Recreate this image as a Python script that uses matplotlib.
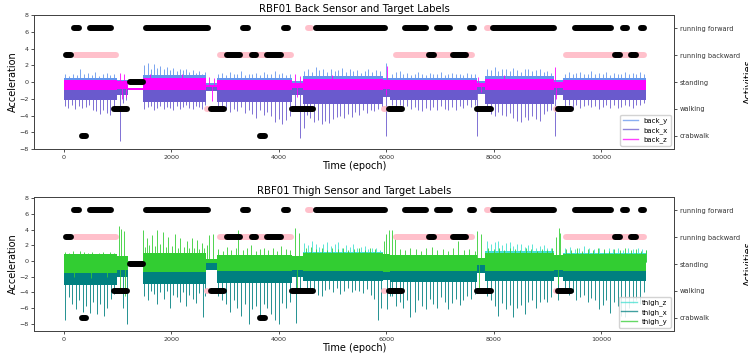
import numpy as np
import matplotlib
matplotlib.use("Agg")
import matplotlib.pyplot as plt
from matplotlib.lines import Line2D

activities = ["crabwalk", "walking", "standing", "running backward", "running forward"]

# ---- label segments (epoch start, epoch end, activity index) ----
pink_start = [1408, 4512, 7832, 167, 2860, 6151, 9304, 2650, 5922, 9149]
pink_end   = [1495, 4648, 7957, 1017, 4264, 7647, 10843, 2712, 6015, 9200]
pink_act   = [4, 4, 4, 3, 3, 3, 3, 1, 1, 1]

black_start = [143, 447, 1495, 3302, 4060, 4648, 6313, 6914, 7523, 7957, 9478, 10372, 10700,
               0, 3004, 3457, 3749, 6760, 7213, 10223, 10527,
               1195,
               900, 2693, 4201, 6015, 7660, 9168,
               291, 3613]
black_end = [322, 912, 2724, 3470, 4214, 6025, 6778, 7231, 7678, 9168, 10235, 10532, 10843,
             167, 3315, 3624, 4078, 6927, 7535, 10391, 10689,
             1520,
             1220, 3022, 4680, 6337, 7989, 9490,
             458, 3780]
black_act = [4] * 13 + [3] * 8 + [2] + [1] * 6 + [0] * 2

# ---- sensor signal envelopes per region (epoch ranges) ----
region_start = [0, 1000, 1200, 1470, 2650, 2850, 4250, 4450, 5950, 6080, 7690, 7850, 9120, 9300]
region_end   = [1000, 1200, 1470, 2650, 2850, 4250, 4450, 5950, 6080, 7690, 7850, 9120, 9300, 10843]

back_y_hi = [0.45, 0.3, -0.8, 0.8, -0.1, 0.45, 0.1, 0.7, 0.5, 0.45, 0.1, 0.7, 0.3, 0.45]
back_y_lo = [-1.2, -1.0, -1.0, -1.5, -0.8, -1.3, -1.0, -1.4, -1.0, -1.2, -0.9, -1.4, -1.0, -1.2]
back_x_hi = [-0.3, -0.5, -0.85, -0.3, -0.6, -0.3, -0.5, -0.3, -0.4, -0.3, -0.5, -0.3, -0.5, -0.3]
back_x_lo = [-2.2, -1.6, -1.0, -2.4, -1.1, -2.4, -1.6, -2.6, -1.8, -2.2, -1.4, -2.6, -1.6, -2.1]
back_z_hi = [0.3, 0.1, -0.75, 0.45, -0.3, 0.3, -0.1, 0.35, 0.2, 0.3, -0.1, 0.35, 0.0, 0.3]
back_z_lo = [-0.9, -0.8, -0.9, -1.0, -0.6, -0.9, -0.7, -1.0, -0.8, -0.9, -0.6, -1.0, -0.7, -0.9]

back_y_spk_x = [30, 100, 170, 240, 310, 380, 450, 520, 590, 660, 730, 800, 870, 940,
                1500, 1560, 1620, 1680, 1740, 1800, 1860, 1920, 1980, 2040, 2100, 2160, 2220,
                2280, 2340, 2400, 2460, 2520, 2580, 2630,
                2880, 2950, 3020, 3090, 3160, 3230, 3300, 3370, 3440, 3510, 3580, 3650, 3720,
                3790, 3860, 3930, 4000, 4070, 4140, 4210,
                4480, 4550, 4620, 4690, 4760, 4830, 4900, 4970, 5040, 5110, 5180, 5250, 5320,
                5390, 5460, 5530, 5600, 5670, 5740, 5810, 5880, 5990,
                6110, 6180, 6250, 6320, 6390, 6460, 6530, 6600, 6670, 6740, 6810, 6880, 6950,
                7020, 7090, 7160, 7230, 7300, 7370, 7440, 7510, 7580, 7650,
                7880, 7950, 8020, 8090, 8160, 8230, 8300, 8370, 8440, 8510, 8580, 8650, 8720,
                8790, 8860, 8930, 9000, 9070,
                9330, 9400, 9470, 9540, 9610, 9680, 9750, 9820, 9890, 9960, 10030, 10100,
                10170, 10240, 10310, 10380, 10450, 10520, 10590, 10660, 10730, 10800]
back_y_spk_y = [0.9, 0.7, 1.0, 0.8, 1.5, 0.9, 1.1, 0.8, 1.2, 0.7, 0.9, 1.1, 0.8, 0.9,
                2.0, 2.3, 1.6, 2.1, 1.7, 1.9, 1.5, 1.8, 1.4, 1.7, 1.3, 1.6, 1.4,
                1.5, 1.2, 1.4, 1.1, 1.3, 1.0, 1.2,
                0.9, 1.1, 0.8, 1.2, 0.9, 1.0, 1.3, 0.8, 1.0, 0.9, 1.1, 0.8, 1.2,
                0.9, 1.0, 1.3, 0.9, 1.1, 0.8, 1.0,
                1.3, 1.6, 1.2, 1.8, 1.4, 1.5, 1.2, 1.6, 1.3, 1.4, 1.7, 1.2, 1.5,
                1.3, 1.4, 1.1, 1.3, 1.5, 1.2, 1.4, 1.3, 2.3,
                1.0, 1.2, 1.3, 0.9, 1.1, 0.8, 1.0, 1.2, 0.9, 0.8, 1.1, 1.0, 0.9,
                1.2, 0.8, 1.0, 1.1, 0.9, 1.0, 0.8, 1.1, 0.9, 1.0,
                1.6, 1.4, 1.8, 1.3, 1.6, 1.5, 1.3, 1.7, 1.4, 1.2, 1.5, 1.6, 1.3,
                1.4, 1.5, 1.2, 1.3, 1.1,
                1.0, 1.2, 0.9, 1.1, 1.2, 0.9, 1.0, 1.3, 0.9, 1.1, 1.0, 1.2,
                0.8, 1.1, 1.0, 0.9, 1.2, 1.0, 1.1, 0.9, 1.2, 1.0]

back_x_spk_x = [20, 85, 150, 215, 280, 345, 410, 475, 540, 605, 670, 735, 800, 865, 930,
                1048, 1100, 1160,
                1500, 1560, 1620, 1680, 1740, 1800, 1860, 1920, 1980, 2040, 2100, 2160, 2220,
                2280, 2340, 2400, 2460, 2520, 2580, 2630,
                2880, 2950, 3020, 3090, 3160, 3230, 3300, 3370, 3440, 3510, 3580, 3650, 3720,
                3790, 3860, 3930, 4000, 4070, 4140, 4210,
                4300, 4400, 4470,
                4520, 4590, 4660, 4730, 4800, 4870, 4940, 5010, 5080, 5150, 5220, 5290, 5360,
                5430, 5500, 5570, 5640, 5710, 5780, 5850, 5920,
                6000,
                6110, 6180, 6250, 6320, 6390, 6460, 6530, 6600, 6670, 6740, 6810, 6880, 6950,
                7020, 7090, 7160, 7230, 7300, 7370, 7440, 7510, 7580, 7650,
                7700,
                7880, 7950, 8020, 8090, 8160, 8230, 8300, 8370, 8440, 8510, 8580, 8650, 8720,
                8790, 8860, 8930, 9000, 9070,
                9150,
                9330, 9400, 9470, 9540, 9610, 9680, 9750, 9820, 9890, 9960, 10030, 10100,
                10170, 10240, 10310, 10380, 10450, 10520, 10590, 10660, 10730, 10800]
back_x_spk_y = [-2.9, -3.1, -2.7, -3.2, -2.9, -3.1, -3.0, -2.8, -3.3, -3.5, -3.8, -3.4, -3.7, -3.9, -3.3,
                -7.0, -2.5, -2.2,
                -3.2, -3.0, -2.9, -3.3, -3.1, -2.9, -3.2, -3.0, -3.1, -3.3, -2.9, -3.2, -3.0,
                -2.8, -3.1, -3.2, -2.9, -3.0, -3.2, -2.8,
                -3.0, -3.4, -3.1, -3.6, -3.2, -3.5, -3.0, -3.7, -3.4, -3.8, -4.3, -3.3, -3.9,
                -3.6, -4.0, -4.8, -4.4, -5.0, -4.5, -4.0,
                -3.5, -6.7, -5.5,
                -3.9, -4.3, -4.8, -4.5, -5.0, -4.6, -4.9, -4.4, -4.2, -4.0, -4.3, -3.8, -4.2,
                -3.6, -3.9, -3.4, -3.7, -3.3, -3.5, -3.2, -3.4,
                -6.4,
                -2.8, -3.0, -2.7, -3.1, -2.9, -3.2, -3.0, -3.3, -3.5, -3.1, -3.4, -3.0, -3.3,
                -2.9, -3.2, -3.4, -3.0, -3.3, -2.9, -3.1, -2.8, -3.0, -2.7,
                -6.4,
                -3.5, -3.8, -4.0, -3.6, -3.9, -4.1, -3.7, -4.3, -4.6, -4.8, -4.2, -4.5, -4.0,
                -4.4, -4.7, -3.8, -3.5, -3.4,
                -6.4,
                -3.0, -2.7, -3.2, -2.8, -3.1, -2.9, -2.8, -3.0, -2.9, -3.2, -3.0, -2.7,
                -3.1, -2.8, -3.1, -3.0, -2.8, -2.9, -3.1, -2.8, -2.7, -2.5]

back_z_spk_x = [1050, 1090, 1120, 1150, 1600, 2200, 2700, 2760, 2800, 4300, 4350, 4400,
                5000, 6000, 6010, 7720, 7760, 8200, 9150, 9160]
back_z_spk_y = [1.1, -2.0, 0.9, -1.8, 1.0, 0.9, 0.6, -2.3, 0.5, 0.9, -1.8, 0.7,
                0.8, -1.5, 1.9, 0.6, -1.2, 0.8, 1.8, -2.0]

thigh_z_hi = [0.8, 0.5, -0.1, 1.0, 0.3, 0.8, 0.5, 1.2, 0.8, 0.8, 0.4, 1.25, 0.6, 1.0]
thigh_z_lo = [-1.0, -0.8, -0.4, -1.2, -0.5, -1.0, -0.8, -1.2, -1.0, -1.0, -0.6, -1.2, -0.8, -1.2]
thigh_x_hi = [-0.3, -0.4, -0.5, -0.5, -0.3, -0.5, -0.4, -0.6, -0.5, -0.5, -0.4, -0.6, -0.5, -0.6]
thigh_x_lo = [-3.1, -2.0, -0.7, -2.9, -1.2, -2.8, -2.0, -2.6, -2.5, -2.7, -1.5, -2.6, -2.0, -2.6]
thigh_y_hi = [0.9, 0.6, 0.0, 1.0, 0.2, 0.8, 0.6, 1.0, 0.9, 0.8, 0.4, 1.0, 0.8, 0.9]
thigh_y_lo = [-1.6, -1.2, -0.2, -1.4, -0.3, -1.3, -1.2, -1.3, -1.4, -1.3, -0.5, -1.3, -1.2, -1.3]

thigh_z_spk_x = [4480, 4550, 4620, 4690, 4760, 4830, 4900, 4970, 5040, 5110, 5180, 5250, 5320,
                 5390, 5460, 5530, 5600, 5670, 5740, 5810, 5880,
                 7880, 7950, 8020, 8090, 8160, 8230, 8300, 8370, 8440, 8510, 8580, 8650, 8720,
                 8790, 8860, 8930, 9000, 9070,
                 9330, 9420, 9510, 9600, 9690, 9780, 9870, 9960, 10050, 10140, 10230, 10320,
                 10410, 10500, 10590, 10680, 10770, 10830]
thigh_z_spk_y = [2.3, 2.0, 2.5, 2.1, 1.8, 2.2, 2.4, 1.9, 2.1, 2.4, 1.7, 2.0, 1.8,
                 2.2, 1.6, 1.8, 1.9, 1.5, 1.6, 1.7, 1.4,
                 2.5, 2.2, 2.4, 2.6, 2.0, 2.3, 2.4, 1.9, 2.1, 2.2, 1.8, 2.0, 2.1,
                 1.7, 1.9, 2.0, 1.6, 1.7,
                 1.6, 1.8, 1.5, 1.7, 1.9, 1.6, 1.5, 1.7, 1.4, 1.6, 1.5, 1.7,
                 1.4, 1.6, 1.5, 1.7, 1.5, 1.4]

thigh_x_spk_x = [30, 95, 160, 225, 290, 355, 420, 485, 550, 615, 680, 745, 810, 875, 940,
                 1100, 1170,
                 1500, 1560, 1620, 1680, 1740, 1800, 1860, 1920, 1980, 2040, 2100, 2160, 2220,
                 2280, 2340, 2400, 2460, 2520, 2590, 2630,
                 2880, 2950, 3020, 3090, 3160, 3230, 3300, 3370, 3440, 3510, 3580, 3650, 3720,
                 3790, 3860, 3930, 4000, 4070, 4140, 4210,
                 4330, 4400,
                 4520, 4590, 4660, 4730, 4800, 4870, 4940, 5010, 5080, 5150, 5220, 5290, 5360,
                 5430, 5500, 5570, 5640, 5710, 5780, 5850, 5900,
                 6020, 6070,
                 6110, 6180, 6250, 6320, 6390, 6440, 6530, 6600, 6670, 6740, 6810, 6880, 6950,
                 7020, 7090, 7160, 7230, 7300, 7370, 7440, 7510, 7580, 7650,
                 7880, 7950, 8020, 8090, 8160, 8230, 8300, 8370, 8440, 8510, 8580, 8650, 8720,
                 8790, 8860, 8930, 9000, 9070,
                 9200,
                 9330, 9400, 9470, 9540, 9610, 9680, 9750, 9820, 9890, 9960, 10030, 10100,
                 10170, 10240, 10310, 10370, 10450, 10520, 10590, 10660, 10730, 10800]
thigh_x_spk_y = [-7.5, -4.6, -5.5, -6.2, -5.0, -6.5, -5.8, -6.6, -5.2, -6.8, -5.5, -7.0, -6.0, -4.8, -4.2,
                 -6.0, -8.0,
                 -4.5, -5.0, -3.8, -4.2, -5.5, -4.0, -4.8, -3.9, -6.0, -4.4, -4.6, -5.2, -4.0,
                 -5.8, -4.3, -4.9, -5.4, -4.1, -7.1, -4.5,
                 -4.5, -5.0, -5.5, -6.5, -5.0, -6.0, -7.0, -5.5, -8.0, -6.2, -5.8, -7.2, -5.5,
                 -6.0, -6.8, -7.5, -8.0, -5.4, -6.0, -5.2,
                 -7.9, -4.0,
                 -4.0, -3.6, -3.8, -4.3, -4.5, -3.7, -3.6, -4.0, -3.5, -4.2, -3.8, -3.5, -4.0,
                 -3.7, -3.8, -4.1, -3.6, -4.4, -4.8, -7.5, -6.0,
                 -6.2, -4.5,
                 -4.5, -5.8, -5.2, -6.0, -5.0, -7.2, -6.5, -5.0, -5.8, -6.2, -4.8, -5.5, -6.0,
                 -4.6, -5.2, -6.2, -5.4, -4.9, -5.6, -5.0, -4.5, -4.8, -4.2,
                 -4.5, -5.0, -5.8, -7.0, -5.4, -6.2, -5.6, -7.2, -6.0, -5.6, -6.8, -5.3, -5.0,
                 -6.0, -5.2, -4.8, -5.2, -4.6,
                 -5.0,
                 -3.8, -4.4, -4.0, -5.0, -4.6, -4.3, -5.3, -4.7, -5.0, -6.2, -5.6, -5.0,
                 -6.6, -5.2, -5.8, -7.0, -7.1, -6.0, -5.4, -5.0, -5.5, -4.0]

thigh_y_spk_x = [30, 100, 170, 240, 310, 380, 450, 520, 590, 660, 730, 800, 870, 940,
                 200, 500, 800,
                 1030, 1075, 1120, 1050, 1140,
                 1483, 1545, 1638, 1731, 1855, 1948, 2072, 2166, 2290, 2383, 2476, 2569,
                 1510, 1590, 1690, 1790, 1900, 2010, 2120, 2230, 2340, 2430, 2520, 2610,
                 2662, 2700, 2780,
                 2880, 2960, 3040, 3120, 3200, 3250, 3330, 3410, 3490, 3570, 3650, 3730, 3810,
                 3890, 3970, 4050, 4130, 4210,
                 4310, 4380, 4340,
                 4500, 4600, 4700, 4800, 4900, 5000, 5100, 5200, 5300, 5400, 5500, 5600, 5700, 5800,
                 5960, 6000, 6060, 6110, 6160,
                 6250, 6350, 6450, 6550, 6650, 6750, 6850, 6950, 7050, 7150, 7250, 7337, 7450,
                 7550, 7650,
                 7700, 7760, 7730,
                 7900, 8000, 8100, 8200, 8300, 8400, 8500, 8600, 8700, 8800, 8900, 9000, 9080,
                 9160, 9211, 9240, 9200,
                 9350, 9450, 9550, 9650, 9750, 9850, 9950, 10050, 10150, 10250, 10350, 10450,
                 10550, 10650, 10750, 10830]
thigh_y_spk_y = [1.2, 1.0, 1.3, 0.9, 1.3, 1.1, 1.0, 1.2, 0.9, 1.0, 1.2, 0.9, 1.1, 1.0,
                 -2.0, -2.2, -2.0,
                 4.4, 4.1, 3.8, -4.0, -4.5,
                 4.0, 2.9, 3.3, 4.0, 3.7, 3.1, 3.5, 2.9, 2.5, 2.9, 2.7, 2.3,
                 1.8, 2.0, 1.9, 2.1, 1.8, 1.9, 1.7, 1.8, 1.6, 1.7, 1.5, 1.6,
                 2.0, 3.3, 3.5,
                 1.5, 1.3, 1.8, 1.4, 1.6, 3.9, 1.4, 1.7, 2.0, 1.3, 1.5, 1.6, 1.4,
                 1.7, 1.3, 1.9, 1.5, 1.4,
                 4.2, 3.6, -3.5,
                 1.6, 1.8, 1.5, 1.7, 1.4, 1.6, 1.5, 1.7, 1.4, 1.5, 1.7, 1.4, 1.6, 1.5,
                 2.6, 3.4, 3.9, 4.0, 3.0,
                 1.5, 1.4, 1.6, 1.5, 1.3, 1.6, 1.8, 1.4, 1.5, 1.3, 1.6, 2.6, 1.4,
                 1.5, 1.3,
                 3.8, 3.5, -4.0,
                 1.6, 1.5, 1.7, 1.4, 1.6, 1.5, 1.4, 1.6, 1.5, 1.3, 1.5, 1.4, 1.6,
                 3.0, 4.2, 3.6, -3.0,
                 1.5, 1.4, 1.6, 1.3, 1.5, 1.4, 1.6, 1.5, 1.3, 1.5, 1.4, 1.6,
                 1.4, 1.5, 1.3, 1.4]

back_signals = [
    ("back_y", "cornflowerblue", back_y_lo, back_y_hi, back_y_spk_x, back_y_spk_y),
    ("back_x", "slateblue", back_x_lo, back_x_hi, back_x_spk_x, back_x_spk_y),
    ("back_z", "magenta", back_z_lo, back_z_hi, back_z_spk_x, back_z_spk_y),
]
thigh_signals = [
    ("thigh_z", "turquoise", thigh_z_lo, thigh_z_hi, thigh_z_spk_x, thigh_z_spk_y),
    ("thigh_x", "teal", thigh_x_lo, thigh_x_hi, thigh_x_spk_x, thigh_x_spk_y),
    ("thigh_y", "limegreen", thigh_y_lo, thigh_y_hi, thigh_y_spk_x, thigh_y_spk_y),
]


def draw_signal(ax, color, lo, hi, spk_x, spk_y, z):
    rs = np.array(region_start)
    re_ = np.array(region_end)
    lo = np.array(lo)
    hi = np.array(hi)
    for s, e, l, h in zip(rs, re_, lo, hi):
        ax.fill_between([s, e], [l, l], [h, h], color=color, lw=0, zorder=z)
    sx = np.array(spk_x)
    sy = np.array(spk_y)
    idx = np.clip(np.searchsorted(rs, sx, side="right") - 1, 0, len(rs) - 1)
    base = (lo[idx] + hi[idx]) / 2
    ax.vlines(sx, base, sy, color=color, lw=0.6, zorder=z)


fig = plt.figure(figsize=(7.48, 3.59), dpi=100)
ax_top = fig.add_axes([0.0455, 0.585, 0.856, 0.373])
ax_bot = fig.add_axes([0.0455, 0.078, 0.856, 0.373])

panels = [
    (ax_top, "RBF01 Back Sensor and Target Labels", back_signals, (-8, 8)),
    (ax_bot, "RBF01 Thigh Sensor and Target Labels", thigh_signals, (-8.95, 8.15)),
]

for ax, title, sigs, ylim in panels:
    handles = []
    for i, (name, color, lo, hi, sx, sy) in enumerate(sigs):
        draw_signal(ax, color, lo, hi, sx, sy, 2 + i)
        handles.append(Line2D([0], [0], color=color, lw=1.0, alpha=0.75, label=name))
    ax.set_xlim(-553, 11365)
    ax.set_ylim(*ylim)
    ax.set_yticks(np.arange(-8, 9, 2))
    ax.set_xticks([0, 2000, 4000, 6000, 8000, 10000])
    ax.tick_params(labelsize=4.6, length=2.5, width=0.6, pad=1.5, colors="#333333")
    for sp in ax.spines.values():
        sp.set_linewidth(0.7)
        sp.set_color("#444444")
    ax.set_title(title, fontsize=7.3, pad=2)
    ax.set_ylabel("Acceleration", fontsize=7, labelpad=1)
    ax.set_xlabel("Time (epoch)", fontsize=7, labelpad=1)

    ax2 = ax.twinx()
    for s, e, a in zip(pink_start, pink_end, pink_act):
        ax2.plot([s + 40, e - 40], [a, a], color="pink", lw=4.3, solid_capstyle="round", zorder=3)
    for s, e, a in zip(black_start, black_end, black_act):
        ax2.plot([s + 40, e - 40], [a, a], color="black", lw=4.3, solid_capstyle="round", zorder=4)
    ax2.set_ylim(-0.5, 4.5)
    ax2.set_yticks(range(len(activities)))
    ax2.set_yticklabels(activities)
    ax2.tick_params(labelsize=4.8, length=2.5, width=0.6, pad=1.5, colors="#333333")
    for sp in ax2.spines.values():
        sp.set_linewidth(0.7)
        sp.set_color("#444444")
    ax2.set_ylabel("Activities", fontsize=7, labelpad=3)
    ax2.legend(handles=handles, loc="lower right", fontsize=5, handlelength=2.2,
               borderpad=0.4, labelspacing=0.35, framealpha=0.85)

fig.savefig("out.png", dpi=100)
